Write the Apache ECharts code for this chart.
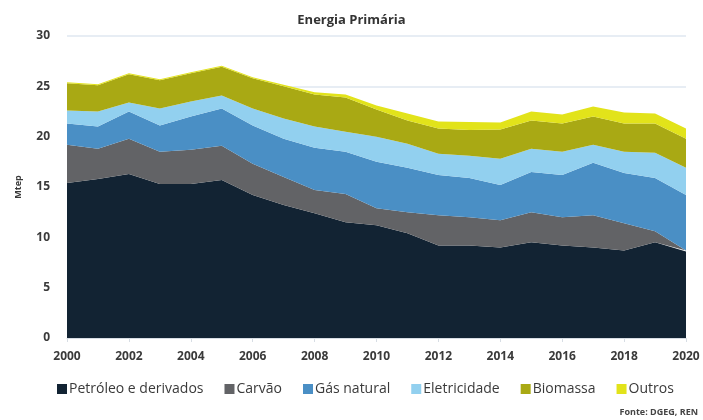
<!DOCTYPE html>
<html>
<head>
<meta charset="utf-8">
<script src="https://cdn.jsdelivr.net/npm/echarts@6/dist/echarts.min.js"></script>
<style>
  html, body { margin: 0; padding: 0; background: #fff; }
  #chart { width: 703px; height: 420px; }
</style>
</head>
<body>
<div id="chart"></div>
<script>
// anos
const years = ['2000', '2001', '2002', '2003', '2004', '2005', '2006', '2007', '2008', '2009', '2010',
  '2011', '2012', '2013', '2014', '2015', '2016', '2017', '2018', '2019', '2020']

// Mtep por fonte (empilhado)
const petroleo = [15.4, 15.8, 16.3, 15.3, 15.3, 15.7, 14.2, 13.2, 12.4, 11.5, 11.2, 10.4, 9.2, 9.2, 9.0, 9.5, 9.2, 9.0, 8.7, 9.5, 8.6]
const carvao = [3.8, 3.0, 3.5, 3.2, 3.4, 3.4, 3.1, 2.8, 2.3, 2.8, 1.7, 2.1, 3.0, 2.8, 2.7, 3.0, 2.8, 3.2, 2.7, 1.1, 0.1]
const gasNatural = [2.1, 2.2, 2.7, 2.6, 3.3, 3.7, 3.8, 3.8, 4.2, 4.2, 4.6, 4.4, 4.0, 3.9, 3.5, 4.0, 4.2, 5.2, 5.0, 5.3, 5.5]
const eletricidade = [1.3, 1.5, 0.9, 1.7, 1.5, 1.3, 1.7, 2.0, 2.1, 2.0, 2.5, 2.4, 2.1, 2.2, 2.6, 2.3, 2.3, 1.8, 2.1, 2.5, 2.7]
const biomassa = [2.7, 2.6, 2.8, 2.8, 2.8, 2.85, 3.0, 3.2, 3.2, 3.4, 2.7, 2.3, 2.5, 2.55, 2.9, 2.8, 2.8, 2.8, 2.8, 2.9, 2.9]
const outros = [0.1, 0.1, 0.1, 0.1, 0.1, 0.1, 0.1, 0.15, 0.2, 0.3, 0.4, 0.7, 0.7, 0.8, 0.7, 0.9, 0.9, 1.0, 1.1, 1.0, 1.0]

const yTicks = [0, 5, 10, 15, 20, 25, 30]

const textColor = '#3a3a3a'
const fontFamily = '"Open Sans", "Noto Sans", sans-serif'

const seriesDefs = [
  { name: 'Petróleo e derivados', data: petroleo, color: '#122333' },
  { name: 'Carvão', data: carvao, color: '#626366' },
  { name: 'Gás natural', data: gasNatural, color: '#4a8fc5' },
  { name: 'Eletricidade', data: eletricidade, color: '#92d0ef' },
  { name: 'Biomassa', data: biomassa, color: '#a9a914' },
  { name: 'Outros', data: outros, color: '#e2e31a' }
]

const chart = echarts.init(document.getElementById('chart'), null, { renderer: 'canvas' })
chart.setOption({
  animation: false,
  textStyle: { fontFamily: fontFamily },
  title: {
    text: 'Energia Primária',
    left: 'center',
    top: 9,
    textStyle: { fontSize: 13, fontWeight: 'bold', color: '#333', fontFamily: fontFamily }
  },
  legend: {
    bottom: 19,
    left: 52,
    itemWidth: 10,
    itemHeight: 10,
    itemGap: 21,
    icon: 'rect',
    textStyle: { fontSize: 14, color: textColor, padding: [0, 0, 0, -3] },
    data: seriesDefs.map(s => s.name)
  },
  graphic: [{
    type: 'text',
    right: 5,
    bottom: 3,
    style: { text: 'Fonte: DGEG, REN', fontSize: 9, fontWeight: 'bold', fill: '#444', fontFamily: fontFamily }
  }],
  grid: {
    left: 67,
    right: 17,
    top: 36,
    bottom: 82
  },
  xAxis: {
    type: 'category',
    data: years,
    boundaryGap: false,
    axisLine: { lineStyle: { color: '#d7dde4' } },
    axisTick: { show: true, lineStyle: { color: '#d7dde4' }, length: 4, interval: 1 },
    axisLabel: {
      interval: 1,
      color: textColor,
      fontSize: 12,
      fontWeight: 'bold',
      margin: 13
    }
  },
  yAxis: {
    type: 'value',
    min: yTicks[0],
    max: yTicks[yTicks.length - 1],
    interval: 5,
    name: 'Mtep',
    nameLocation: 'middle',
    nameRotate: 90,
    nameGap: 44,
    nameTextStyle: { fontSize: 9, fontWeight: 'bold', color: textColor },
    axisLine: { show: false },
    axisTick: { show: false },
    axisLabel: { color: textColor, fontSize: 12, fontWeight: 'bold', margin: 17 },
    splitLine: { lineStyle: { color: '#dfe7f0', width: 1.5 } }
  },
  series: seriesDefs.map(s => ({
    name: s.name,
    type: 'line',
    stack: 'total',
    data: s.data,
    symbol: 'none',
    lineStyle: { width: 0 },
    areaStyle: { color: s.color, opacity: 1 },
    itemStyle: { color: s.color }
  }))
})
</script>
</body>
</html>
